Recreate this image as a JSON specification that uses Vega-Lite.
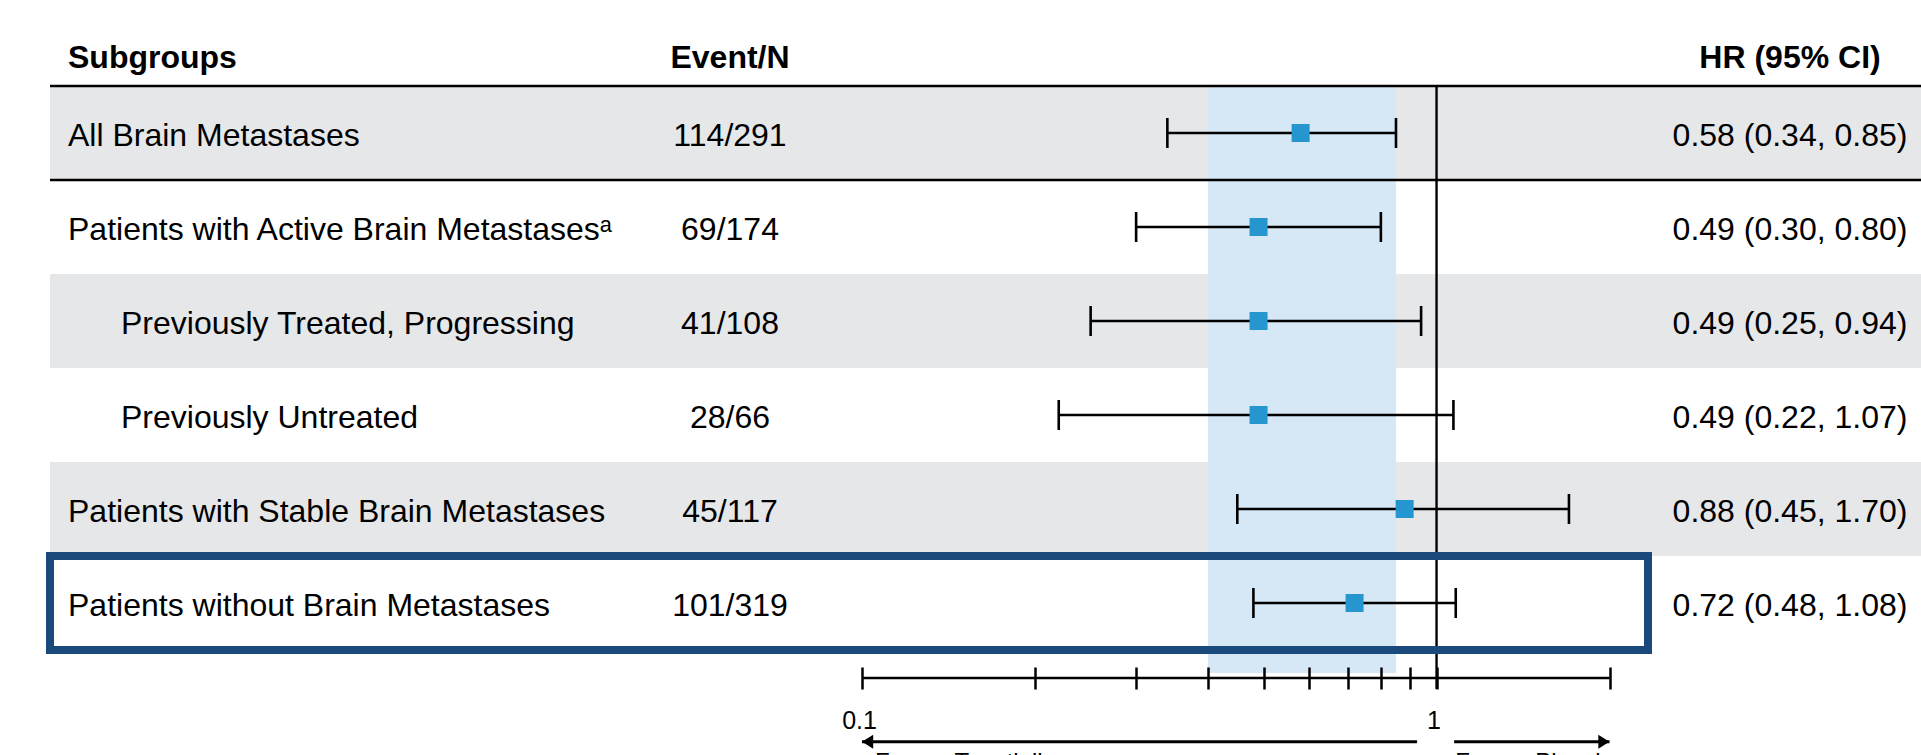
{
  "$schema": "https://vega.github.io/schema/vega-lite/v6.json",
  "width": 1871,
  "height": 669,
  "autosize": {"type": "none"},
  "padding": {"left": 50, "top": 86, "right": 0, "bottom": 0},
  "background": "white",
  "config": {
    "view": {"stroke": null},
    "font": "Liberation Sans",
    "text": {"font": "Liberation Sans", "color": "#000000"}
  },
  "datasets": {
    "subgroups": [
      {"row": 1, "level": 0, "subgroup": "All Brain Metastases", "events": "114/291", "hr": 0.58, "lo": 0.34, "hi": 0.85, "hr_ci": "0.58 (0.34, 0.85)"},
      {"row": 2, "level": 0, "subgroup": "Patients with Active Brain Metastasesᵃ", "events": "69/174", "hr": 0.49, "lo": 0.30, "hi": 0.80, "hr_ci": "0.49 (0.30, 0.80)"},
      {"row": 3, "level": 1, "subgroup": "Previously Treated, Progressing", "events": "41/108", "hr": 0.49, "lo": 0.25, "hi": 0.94, "hr_ci": "0.49 (0.25, 0.94)"},
      {"row": 4, "level": 1, "subgroup": "Previously Untreated", "events": "28/66", "hr": 0.49, "lo": 0.22, "hi": 1.07, "hr_ci": "0.49 (0.22, 1.07)"},
      {"row": 5, "level": 0, "subgroup": "Patients with Stable Brain Metastases", "events": "45/117", "hr": 0.88, "lo": 0.45, "hi": 1.70, "hr_ci": "0.88 (0.45, 1.70)"},
      {"row": 6, "level": 0, "subgroup": "Patients without Brain Metastases", "events": "101/319", "hr": 0.72, "lo": 0.48, "hi": 1.08, "hr_ci": "0.72 (0.48, 1.08)"}
    ],
    "overall_band": [{"lo": 0.40, "hi": 0.85}],
    "arrows": [
      {"side": "Favors Tepotinib", "start": 0.925, "tip": 0.1, "dir": -1},
      {"side": "Favors Placebo", "start": 1.073, "tip": 2, "dir": 1}
    ],
    "one": [{}]
  },
  "data": {"name": "subgroups"},
  "layer": [
    {
      "transform": [{"filter": "datum.row % 2 == 1"}],
      "mark": {"type": "rect", "fill": "#E6E7E9"},
      "encoding": {
        "y": {"field": "subgroup", "type": "nominal", "sort": null, "axis": null,
              "scale": {"domain": ["All Brain Metastases", "Patients with Active Brain Metastasesᵃ", "Previously Treated, Progressing", "Previously Untreated", "Patients with Stable Brain Metastases", "Patients without Brain Metastases"], "range": [0, 564], "paddingInner": 0, "paddingOuter": 0}}
      }
    },
    {
      "data": {"name": "overall_band"},
      "mark": {"type": "rect", "fill": "#D6E7F5"},
      "encoding": {
        "x": {
          "field": "lo", "type": "quantitative",
          "scale": {"type": "log", "domain": [0.1, 2], "range": [812, 1559.5], "nice": false},
          "axis": {
            "title": null, "orient": "bottom", "offset": -88,
            "values": [0.1, 0.2, 0.3, 0.4, 0.5, 0.6, 0.7, 0.8, 0.9, 1, 2],
            "labelExpr": "datum.value == 0.1 ? '0.1' : (datum.value == 1 ? '1' : '')",
            "tickSize": 22, "tickWidth": 2.5, "tickColor": "#000000", "ticks": true,
            "domain": false, "grid": false, "zindex": 1,
            "labelFont": "Liberation Sans", "labelFontSize": 25, "labelColor": "#000000",
            "labelPadding": 19, "labelOffset": -3, "labelFlush": false, "labelOverlap": false, "labelBound": false
          }
        },
        "x2": {"field": "hi"},
        "y": {"value": 0},
        "y2": {"value": 587}
      }
    },
    {
      "transform": [{"filter": "datum.row <= 2"}],
      "mark": {"type": "rule", "color": "#000000", "strokeWidth": 2.6},
      "encoding": {
        "y": {"field": "subgroup", "type": "nominal", "bandPosition": 0, "axis": null}
      }
    },
    {
      "data": {"name": "one"},
      "mark": {"type": "rule", "color": "#000000", "strokeWidth": 2.4},
      "encoding": {
        "x": {"datum": 1, "type": "quantitative"},
        "y": {"value": 0},
        "y2": {"value": 603}
      }
    },
    {
      "data": {"name": "one"},
      "mark": {"type": "rule", "color": "#000000", "strokeWidth": 2.6},
      "encoding": {
        "x": {"datum": 0.1, "type": "quantitative"},
        "x2": {"datum": 2},
        "y": {"value": 592}
      }
    },
    {
      "mark": {"type": "rule", "color": "#000000", "strokeWidth": 2.5},
      "encoding": {
        "x": {"field": "lo", "type": "quantitative", "title": null},
        "x2": {"field": "hi"},
        "y": {"field": "subgroup", "type": "nominal", "axis": null}
      }
    },
    {
      "mark": {"type": "tick", "color": "#000000", "size": 30, "thickness": 2.6, "opacity": 1},
      "encoding": {
        "x": {"field": "lo", "type": "quantitative", "title": null},
        "y": {"field": "subgroup", "type": "nominal", "axis": null}
      }
    },
    {
      "mark": {"type": "tick", "color": "#000000", "size": 30, "thickness": 2.6, "opacity": 1},
      "encoding": {
        "x": {"field": "hi", "type": "quantitative", "title": null},
        "y": {"field": "subgroup", "type": "nominal", "axis": null}
      }
    },
    {
      "mark": {"type": "square", "size": 324, "filled": true, "color": "#2596CF", "opacity": 1},
      "encoding": {
        "x": {"field": "hr", "type": "quantitative", "title": null},
        "y": {"field": "subgroup", "type": "nominal", "axis": null}
      }
    },
    {
      "transform": [{"filter": "datum.row == 6"}],
      "mark": {"type": "rect", "fillOpacity": 0, "stroke": "#1A4A7C", "strokeWidth": 8, "y2Offset": -7},
      "encoding": {
        "x": {"value": 0},
        "x2": {"value": 1598},
        "y": {"field": "subgroup", "type": "nominal", "axis": null}
      }
    },
    {
      "transform": [{"filter": "datum.level == 0"}],
      "mark": {"type": "text", "align": "left", "baseline": "alphabetic", "dy": 12.5, "fontSize": 32},
      "encoding": {
        "x": {"value": 18},
        "y": {"field": "subgroup", "type": "nominal", "axis": null},
        "text": {"field": "subgroup"}
      }
    },
    {
      "transform": [{"filter": "datum.level == 1"}],
      "mark": {"type": "text", "align": "left", "baseline": "alphabetic", "dy": 12.5, "fontSize": 32},
      "encoding": {
        "x": {"value": 71},
        "y": {"field": "subgroup", "type": "nominal", "axis": null},
        "text": {"field": "subgroup"}
      }
    },
    {
      "mark": {"type": "text", "align": "center", "baseline": "alphabetic", "dy": 12.5, "fontSize": 32},
      "encoding": {
        "x": {"value": 680},
        "y": {"field": "subgroup", "type": "nominal", "axis": null},
        "text": {"field": "events"}
      }
    },
    {
      "mark": {"type": "text", "align": "center", "baseline": "alphabetic", "dy": 12.5, "fontSize": 32},
      "encoding": {
        "x": {"value": 1740},
        "y": {"field": "subgroup", "type": "nominal", "axis": null},
        "text": {"field": "hr_ci"}
      }
    },
    {
      "data": {"name": "one"},
      "mark": {"type": "text", "text": "Subgroups", "align": "left", "baseline": "alphabetic", "fontSize": 32, "fontWeight": "bold"},
      "encoding": {"x": {"value": 18}, "y": {"value": -18}}
    },
    {
      "data": {"name": "one"},
      "mark": {"type": "text", "text": "Event/N", "align": "center", "baseline": "alphabetic", "fontSize": 32, "fontWeight": "bold"},
      "encoding": {"x": {"value": 680}, "y": {"value": -18}}
    },
    {
      "data": {"name": "one"},
      "mark": {"type": "text", "text": "HR (95% CI)", "align": "center", "baseline": "alphabetic", "fontSize": 32, "fontWeight": "bold"},
      "encoding": {"x": {"value": 1740}, "y": {"value": -18}}
    },
    {
      "data": {"name": "arrows"},
      "mark": {"type": "rule", "color": "#000000", "strokeWidth": 3},
      "encoding": {
        "x": {"field": "start", "type": "quantitative", "title": null},
        "x2": {"field": "tip"},
        "y": {"value": 655.7}
      }
    },
    {
      "data": {"name": "arrows"},
      "mark": {"type": "point", "filled": true, "size": 196, "color": "#000000", "opacity": 1, "strokeWidth": 0},
      "encoding": {
        "x": {"field": "tip", "type": "quantitative", "title": null},
        "y": {"value": 655.7},
        "shape": {"condition": {"test": "datum.dir < 0", "value": "M0,0L1.6,-1L1.6,1Z"}, "value": "M0,0L-1.6,-1L-1.6,1Z"}
      }
    },
    {
      "data": {"name": "arrows"},
      "transform": [{"filter": "datum.dir < 0"}],
      "mark": {"type": "text", "align": "left", "baseline": "alphabetic", "fontSize": 24, "dx": 13},
      "encoding": {
        "x": {"field": "tip", "type": "quantitative", "title": null},
        "y": {"value": 684},
        "text": {"field": "side"}
      }
    },
    {
      "data": {"name": "arrows"},
      "transform": [{"filter": "datum.dir > 0"}],
      "mark": {"type": "text", "align": "left", "baseline": "alphabetic", "fontSize": 24, "dx": 1},
      "encoding": {
        "x": {"field": "start", "type": "quantitative", "title": null},
        "y": {"value": 684},
        "text": {"field": "side"}
      }
    }
  ]
}
